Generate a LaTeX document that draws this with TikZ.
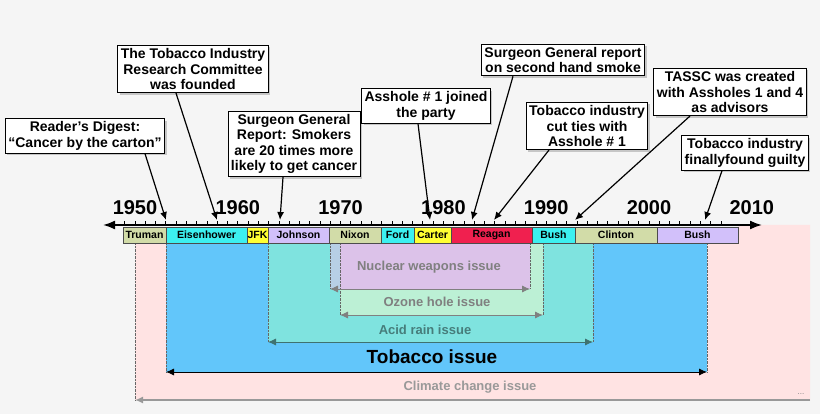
\documentclass[tikz,border=0pt]{standalone}
\usepackage{fontspec}
\setmainfont{Liberation Sans}
\usetikzlibrary{shadows,arrows.meta}
\definecolor{bgc}{HTML}{F5F5F5}
\definecolor{climc}{HTML}{FFE3E3}
\definecolor{tobc}{HTML}{62C6FA}
\definecolor{acidc}{HTML}{7FE3DF}
\definecolor{ozc}{HTML}{BCF0D5}
\definecolor{nucc}{HTML}{DCC2E9}
\definecolor{prA}{HTML}{D2DCA8}
\definecolor{prB}{HTML}{3CF0F0}
\definecolor{prC}{HTML}{FFFF33}
\definecolor{prD}{HTML}{D2C0FA}
\definecolor{prE}{HTML}{F0204F}
\begin{document}
\begin{tikzpicture}[x=1pt,y=-1pt,font=\bfseries,
        note/.style={rectangle,draw,thick,fill=white,align=center,font=\bfseries\fontsize{14}{15.5}\selectfont,
            inner sep=3pt,drop shadow={shadow xshift=2pt,shadow yshift=-2pt,opacity=0.4}},
        pres/.style={rectangle,draw=black!70,minimum height=16pt,inner sep=0pt,font=\bfseries\fontsize{10.5}{12}\selectfont},
        issue/.style={font=\bfseries\fontsize{13}{14}\selectfont,text=gray},
        span/.style={{Latex[length=8pt,width=7pt]}-{Latex[length=8pt,width=7pt]},thick,draw=gray},
        drop/.style={densely dotted,draw=black!60},
        pointer/.style={-{Latex[length=8pt,width=7pt]},very thick}]

    \useasboundingbox[fill=bgc] (0,0) rectangle (820,414);

    % issue spans
    \fill[climc] (135,243) -- (738,243) -- (738,225) -- (810,225) -- (810,400) -- (135,400) -- cycle;
    \fill[tobc] (166,243) rectangle (707,372);
    \fill[acidc] (268,243) rectangle (593,342);
    \fill[ozc] (340,243) rectangle (543,315);
    \fill[nucc] (330,243) rectangle (530,289);
    \fill[nucc!60!acidc] (330,243) rectangle (340,289);

    \node[issue] (nuc) at (429,267) {Nuclear weapons issue};
    \node[issue] (oz) at (437,302) {Ozone hole issue};
    \node[issue,text=black!45!acidc] (acid) at (425,330) {Acid rain issue};
    \node[font=\bfseries\fontsize{19}{22}\selectfont] (tob) at (432,357) {Tobacco issue};
    \node[issue,text=gray!80] (clim) at (470,387) {Climate change issue};
    \node[text=gray,font=\fontsize{8}{8}\selectfont] (dots) at (801,394) {...};

    \draw[drop] (135,243) -- (135,400);
    \draw[drop] (166,243) -- (166,372) (707,243) -- (707,372);
    \draw[drop] (268,243) -- (268,342) (593,243) -- (593,342);
    \draw[drop] (340,243) -- (340,315) (543,243) -- (543,315);
    \draw[drop] (330,243) -- (330,289) (530,243) -- (530,289);

    \coordinate (climR) at (810,400);
    \coordinate (climL) at (135,400);
    \draw[span,-{Latex[length=8pt,width=7pt]},draw=gray!80,line width=1.4pt] (climR) -- (climL);
    \draw[span,draw=black] (166,372) -- (707,372);
    \draw[span,draw=black!50!acidc] (268,342) -- (593,342);
    \draw[span] (340,315) -- (543,315);
    \draw[span] (330,289) -- (530,289);

    % axis
    \foreach \y in {-2,...,57}
        \draw[thick] ({135+10.28*\y},225) -- ++(0,-4);
    \draw[{Latex[length=12pt,width=9pt]}-{Latex[length=12pt,width=9pt]},line width=1.8pt] (103,225) -- (762,225);
    \foreach \y [count=\i] in {1950,1960,...,2010}
        \node[font=\bfseries\fontsize{20}{22}\selectfont] (y\i) at ({135+102.8*(\i-1)},208) {\y};

    % presidents
    \foreach \a/\b/\c/\n in {123/166/prA/Truman,166/247/prB/Eisenhower,247/268/prC/JFK,268/329/prD/Johnson,
        329/381/prA/Nixon,381/414/prB/Ford,414/451/prC/Carter,451/532/prE/Reagan,532/575/prB/Bush,
        575/657/prA/Clinton,657/738/prD/Bush}
        \node[pres,fill=\c,minimum width={\b-\a}] at ({(\a+\b)/2},235) {\n};

    % notes
    \node[note] (rd) at (85,136) {Reader’s Digest:\\“Cancer by the carton”};
    \node[note] (tirc) at (193,69) {The Tobacco Industry\\Research Committee\\was founded};
    \node[note] (sg1) at (294,144) {Surgeon General\\Report: Smokers\\are 20 times more\\likely to get cancer};
    \node[note] (ah) at (426,106) {Asshole \# 1 joined\\the party};
    \node[note] (sg2) at (563,60) {Surgeon General report\\on second hand smoke};
    \node[note] (cut) at (587,126) {Tobacco industry\\cut ties with\\Asshole \# 1};
    \node[note] (tassc) at (730,92) {TASSC was created\\with Assholes 1 and 4\\as advisors};
    \node[note] (guilty) at (745,153) {Tobacco industry\\finallyfound guilty};

    \coordinate (t1) at (166,220);
    \coordinate (t2) at (217,220);
    \coordinate (t3) at (280,220);
    \coordinate (t4) at (430,220);
    \coordinate (t5) at (472,220);
    \coordinate (t6) at (494,220);
    \coordinate (t7) at (575,220);
    \coordinate (t8) at (705,220);

    \draw[pointer] (rd.south) ++(60,0) -- (t1);
    \draw[pointer] (tirc.south) ++(-17,0) -- (t2);
    \draw[pointer] (sg1.south) ++(-11,0) -- (t3);
    \draw[pointer] (ah.south) ++(-8,0) -- (t4);
    \draw[pointer] (sg2.south) ++(-50,0) -- (t5);
    \draw[pointer] (cut.south) ++(-38,0) -- (t6);
    \draw[pointer] (tassc.south) ++(-40,0) -- (t7);
    \draw[pointer] (guilty.south) ++(-23,0) -- (t8);
\end{tikzpicture}
\end{document}
